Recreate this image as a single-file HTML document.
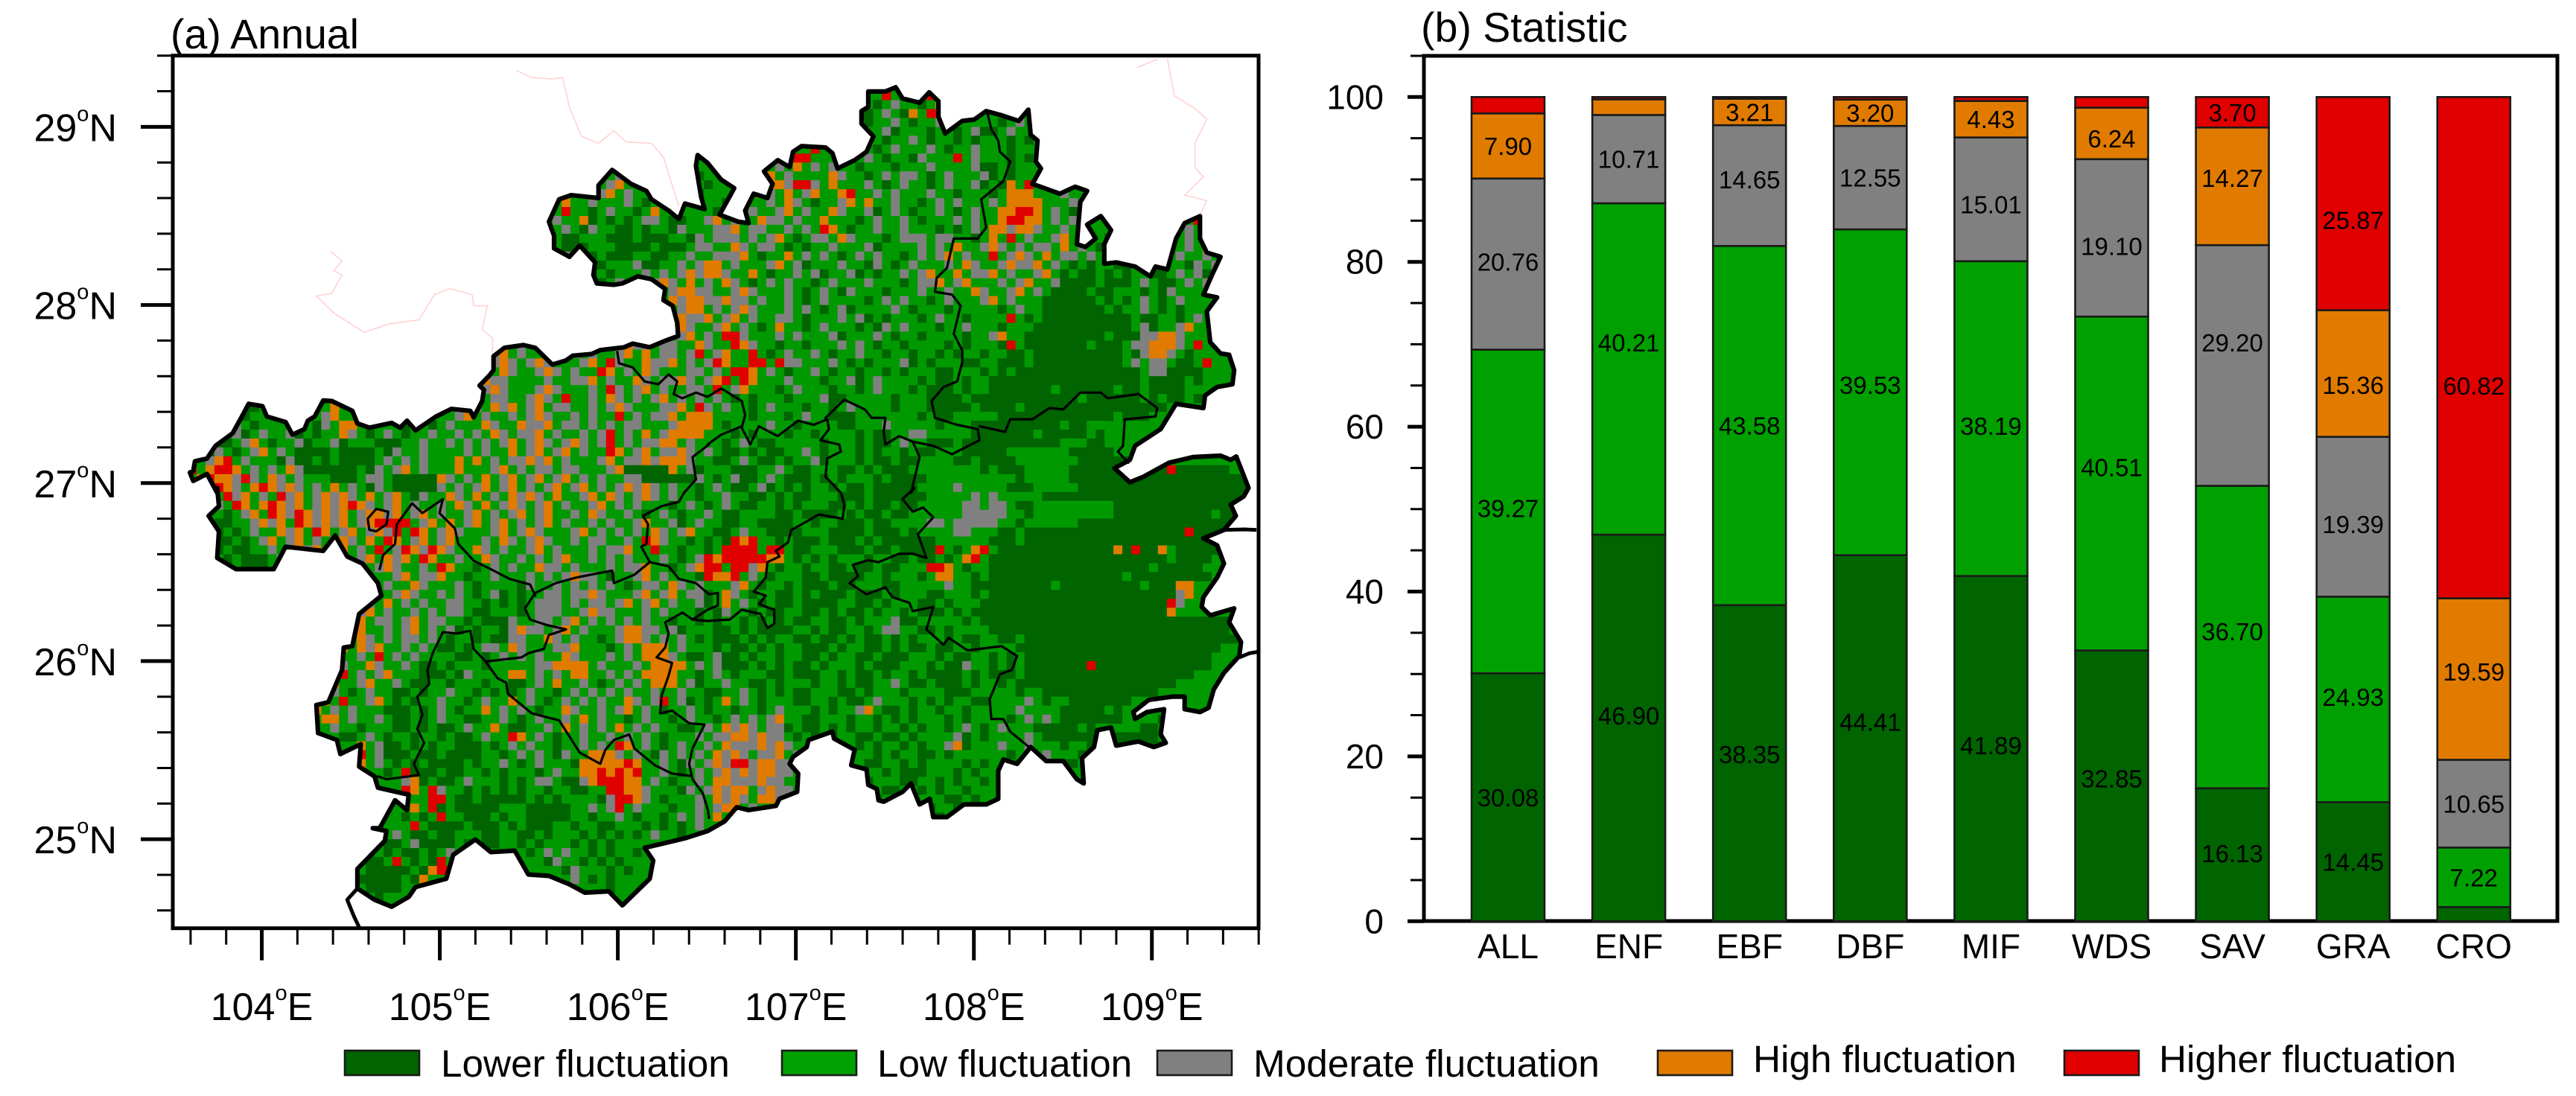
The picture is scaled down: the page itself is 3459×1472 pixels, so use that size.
<!DOCTYPE html>
<html lang="en">
<head>
<meta charset="utf-8">
<title>Fluctuation map and statistics</title>
<style>
html,body{margin:0;padding:0;background:#fff}
svg{display:block}
text{font-family:"Liberation Sans",Arial,sans-serif;fill:#000}
</style>
</head>
<body>
<svg id="fig" xmlns="http://www.w3.org/2000/svg" width="3459" height="1472" viewBox="0 0 3459 1472">
<rect width="3459" height="1472" fill="#fff"/>
<g id="map"></g>
<g id="bars"></g>
<g id="legend"></g>
<text x="229" y="65" font-size="55.5">(a) Annual</text>
<text x="1908" y="56" font-size="55.5">(b) Statistic</text>
</svg>
<script>
// ---------- chart (b) data ----------
const categories=["ALL","ENF","EBF","DBF","MIF","WDS","SAV","GRA","CRO"];
const lowerValues=[30.08,46.90,38.35,44.41,41.89,32.85,16.13,14.45,1.72];
const lowValues=[39.27,40.21,43.58,39.53,38.19,40.51,36.70,24.93,7.22];
const moderateValues=[20.76,10.71,14.65,12.55,15.01,19.10,29.20,19.39,10.65];
const highValues=[7.90,1.90,3.21,3.20,4.43,6.24,14.27,15.36,19.59];
const higherValues=[1.99,0.28,0.21,0.31,0.48,1.30,3.70,25.87,60.82];
const valueTicks=[0,20,40,60,80,100];
const seriesNames=["Lower fluctuation","Low fluctuation","Moderate fluctuation","High fluctuation","Higher fluctuation"];
// small label nudges (value units), per series, relative to segment midpoints
const lowerNudge=[0,1.5,1.1,2,.4,.9,.2,0,0];
const lowNudge=[.4,3.2,0,.9,-.9,2,.7,.3,0];
const moderateNudge=[.3,0,.75,0,-.6,-1,2.8,-.9,0];
const highNudge=[0,0,0,0,0,-.6,1,-1.4,.9];
const higherNudge=[0,0,0,0,0,0,0,-2,-4.6];
// ---------- map (a) data ----------
const lonTicks=[104,105,106,107,108,109];
const latTicks=[25,26,27,28,29];
// Digitised boundaries: [tileColumn,tileRow,[x,y,...]] in 1/520.6 deg lon, 1/635.7 deg lat
const outerBoundary=[
[0,0,[60,1490,65,1455,100,1445,125,1400,175,1355,200,1300,222,1250,262,1258,275,1295,330,1315,350,1360,385,1340,395,1310,415,1295,440,1238,465,1240,525,1275,540,1320,575,1335,640,1318,665,1335,685,1310,710,1345,770,1295,815,1268,870,1275,880,1298,905,1240,910,1200,897,1185,925,1150,938,1130,938,1080,970,1050,1025,1040,1060,1050,1110,1110,1150,1095,1170,1078,1225,1072,1250,1058,1320,1048,1345,1035,1395,1048,1440,1025,1478,1008,1475,960,1462,900,1435,880,1440,840,1400,805,1360,795,1315,820,1290,825,1240,820,1230,790,1235,745,1190,685,1160,725,1115,695,1115,650,1100,600,1130,520,1165,505,1245,515,1245,470,1285,415,1340,465,1385,490,1400,520,1450,560,1480,590,1498,535,1555,555,1545,510,1530,400,1535,362,1564,390]],
[1,0,[40,450,78,480,60,520,35,575,90,600,120,605,110,560,135,500,175,515,190,465,165,420,205,380,240,405,250,350,275,330,345,335,365,355,380,410,430,380,465,350,485,295,450,250,450,205,470,190,470,135,520,135,550,120,570,160,620,175,648,138,675,170,675,225,695,285,745,240,780,235,815,205,860,220,910,240,938,200,945,290,965,310,960,385,975,410,950,465,1030,500,1075,475,1110,490,1090,530,1085,600,1080,680,1105,690,1135,660,1110,610,1150,580,1180,630,1160,680,1160,750,1195,745,1250,760,1295,795,1310,760,1345,770,1370,660,1395,605,1440,580,1440,660,1460,710,1500,725,1475,790,1450,860,1490,870,1460,920,1470,1030,1500,1070,1525,1075,1540,1130,1535,1180,1490,1190,1455,1220,1450,1265,1370,1250,1325,1340,1250,1400,1235,1450,1190,1480,1235,1530,1275,1510,1350,1460,1420,1440,1500,1435,1530,1450,1546,1438,1582,1550]],
[1,1,[1568,30,1530,60,1545,100,1510,150,1450,180,1490,205,1510,270,1490,320,1450,390,1445,425,1470,455,1540,430,1525,480,1560,550,1555,600,1510,660,1480,720,1465,785,1440,800,1395,790,1395,745,1360,745,1290,757,1245,800,1250,825,1285,800,1335,790,1325,880,1340,910,1305,925,1260,905,1195,920,1180,855,1140,865,1130,925,1095,965,1100,1055,1080,1040,1040,975,990,975,945,925,905,985,865,970,850,1010,850,1110,815,1130,750,1130,700,1175,660,1175,650,1110,620,1130,595,1055,570,1085,515,1120,500,1115,495,1075,470,1060,465,1005,420,990,430,935,370,895,365,870,295,900,290,925,250,960,240,985,265,1020,262,1085,210,1110,200,1135,120,1150,85,1140,50,1190,0,1225]],
[0,1,[1500,1250,1380,1285,1405,1330,1395,1395,1315,1490,1275,1440,1205,1445,1160,1415,1100,1385,1040,1380,1000,1295,930,1300,885,1255,820,1310,800,1395,710,1425,690,1460,640,1495,590,1470,540,1430,540,1360,620,1260,625,1225,585,1215,605,1215,650,1115,685,1150,690,1095,600,1070,590,1030,545,995,550,915,490,950,480,900,425,875,420,775,455,765,495,650,500,570,525,565,545,450,610,385,600,340,555,270,510,245,475,170,440,225,330,210,295,290,185,290,130,250,135,155,105,100,135,65,130,0]],
[0,0,[130,1568,100,1500,60,1525,50,1495,60,1490]]
];
const outerStubs=[
[[1,1,[1510,150,1570,148,1605,150]]],
[[1,1,[1555,605,1585,590,1611,585]]],
[[0,1,[540,1430,510,1470,530,1530,545,1568]]]
];
const innerBoundaries=[
[[0,0,[1300,1065,1305,1105,1345,1120,1380,1170,1420,1180,1450,1145,1475,1170,1465,1215,1490,1230,1530,1210,1564,1225]],[1,0,[40,1195,100,1240,110,1290,100,1335,125,1395,150,1330,205,1365,265,1310,310,1325,350,1305,355,1340,330,1380,385,1395,390,1420,350,1445,345,1510,390,1568]],[1,1,[400,60,395,110,325,95,290,120,245,150,235,195,200,225,210,245,175,265,170,320,135,370,170,385,150,415,195,435,195,485,175,500,155,450,100,435,65,470,0,475]],[0,1,[1520,470,1490,445,1455,470,1440,480,1450,520,1440,570,1415,605,1460,625,1450,670,1430,740,1425,805,1460,795,1510,840,1555,845,1520,930,1510,985,1520,1040,1550,1090,1565,1150,1568,1178]]],
[[1,0,[100,1330,40,1360,0,1395]],[0,0,[1568,1395,1520,1440,1530,1520,1495,1568]],[0,1,[1480,50,1430,65,1375,100,1390,130,1385,200,1370,210,1395,265,1350,310,1290,340,1285,295,1180,320,1120,340,1060,375,1030,430,1045,470,1095,490,1150,505,1100,525,1085,575,1040,590,1020,605,915,620]]],
[[0,1,[1395,265,1450,280,1480,325,1530,340,1568,380]],[1,1,[30,375,30,420,0,435]],[0,1,[1520,470]]],
[[0,1,[605,290,615,240,650,200,655,130,700,55,730,90,790,40,780,90,825,145,835,200,880,260,930,290,985,325,1045,345,1060,385]]],
[[0,1,[915,620,950,680,975,695,980,735,1050,805,1130,830,1190,945,1250,985,1265,935,1290,900,1335,880,1350,930,1410,990,1460,1020,1515,1028]]],
[[0,1,[915,620,880,575,870,510,830,520,790,515,760,590,745,650,750,700,715,745,730,810,715,860,735,910,705,985,720,1025,625,1040,600,1030]]],
[[0,1,[575,150,570,110,595,75,630,85,625,130,595,155,575,150]]],
[[1,0,[818,210,830,270,850,310,855,350,885,385,865,455,800,520,815,620,790,660,720,660,700,765,670,800,665,850,715,860,740,900,720,1000,745,1060,745,1100,730,1170,690,1190,655,1240,665,1300,730,1325,790,1340,795,1380,715,1430,660,1400,600,1385,560,1365,520,1395,515,1350,520,1300,480,1300,460,1270,400,1235,345,1300]]],
[[1,0,[600,1385,620,1440,595,1568]],[1,1,[605,0,570,40,600,85,630,70,660,105,615,165,640,250,600,235,560,235,500,265,470,258,425,275,440,315,415,340,465,380,520,355,540,390,590,410,600,440,660,425,640,505,690,560,705,535,760,580,860,565,905,600,890,650,855,665,825,755,830,825,865,825,885,870,940,925]]],
[[1,0,[795,1330,870,1350,885,1305,950,1305,1000,1265,1040,1270,1090,1210,1150,1210,1170,1230,1260,1215,1315,1265,1310,1295,1220,1305,1215,1400,1200,1420,1230,1460]]]
];
const paleBoundaries=[
[[0,0,[1005,60,1050,85,1110,90,1140,85,1160,190,1195,295,1245,320,1290,275,1325,315,1400,320,1435,370,1480,545]]],
[[0,0,[462,705,495,740,470,775,495,790,465,855,420,865,470,925,560,995,630,965,720,950,765,860,810,838,875,860,880,900,920,900,905,985,935,1015,935,1075]]],
[[1,0,[1255,50,1315,20]]],
[[1,0,[1345,20,1365,150,1430,200,1460,235,1425,320,1425,405,1450,440,1395,505,1460,525,1440,575]]]
];
// Class per 0.05 degree cell, [row,startColumn,classes]: d lower, g low, m moderate, h high, r higher
const cellRows=[
[1,77,"grgdggrg"],[2,76,"gdgmggdgh"],[3,75,"ddgmgdhgrrg"],[3,92,"grg"],[4,75,"gdggmgdggmg"],[4,89,"ggdgmg"],
[5,76,"ggmdgggdggdgmddgmg"],[6,76,"hgdggmgdggdgdgggdgd"],[7,69,"grg"],[7,76,"gdgmgggmgdggmgggdgg"],
[8,65,"gmgrrgg"],[8,76,"mgdggdmgggrgmgggdgdg"],[9,64,"ggmghgmgmgg"],[9,75,"dgggdgggmggggmddgdgggg"],
[10,47,"gm"],[10,57,"dg"],[10,64,"hhgmgggghmg"],[10,75,"gdgmgmmgdgmgggmdgdggg"],
[11,46,"gmhg"],[11,57,"gdg"],[11,64,"mhhmrrmghgg"],[11,75,"gmgdgmggdgmggmdgdhgrg"],
[12,45,"gmhgm"],[12,57,"dgg"],[12,64,"hmghgmhgghrg"],[12,76,"gmgmgggmggdgggdghhhgggmggggrg"],
[13,41,"ghggmgggmgdg"],[13,58,"ggd"],[13,64,"gmghmgdggmhg"],[13,76,"hggmggdgmgmgggmghhhhgggmggg"],
[14,41,"grggdgmggdghgg"],[14,58,"gdg"],[14,63,"mggmhgmgghmg"],[14,75,"gmdgmgdggmgdgmgghhrrhgmgdgmgg"],
[15,40,"gmgghdgdgdgmmgddggmh"],[15,60,"gmgghmmgmgghgggdgmggmgdgggmgmg"],[15,90,"ghrrhhgmgmgggd"],[15,112,"gr"],
[16,40,"hgmgdmggddgdggdmgggm"],[16,60,"mhgmmggmgmgrhgdggmggmgggdgdgmg"],[16,90,"hhmhhmggmgmgggdg"],[16,111,"gmg"],
[17,40,"hgddgggdddgdddggdmgm"],[17,60,"mmgmgmhgdgmmghmgggdgmmmgmmggdg"],[17,90,"hgrgmggmhgmggd"],[17,111,"gmgm"],
[18,41,"gdddgggddddgdddgmmg"],[18,60,"ghmgmmgdgdggmgggmdggggmgmghggm"],[18,90,"hmgmgmmghgmgdg"],[18,110,"ggmgh"],
[19,42,"mgddgdddggddggmggm"],[19,60,"mmhgdgghgmgmgdgmgmggdgmgmhgmgg"],[19,90,"rgmhmghgmmgmgg"],[19,110,"gmggmg"],
[20,42,"gddddgggmddggmgmhh"],[20,60,"gmgggmhgmdgggmggdmgdgmgggmghmg"],[20,90,"gmhmmhgmgdgdggddgddgggdmgmmg"],
[21,44,"gdgdgggmgmgmhmhhmg"],[21,60,"mgghgdggmgmdggmdgdggmgmhgghgmm"],[21,90,"hgmggmhgdgddgdgdggddgmgmdgggg"],
[22,46,"dgmgggmhmghgmgmg"],[22,60,"hmgdgmgmggdgmgggmgggdgmmhgmhgg"],[22,90,"gmgmhggmddddgdddgmgddgmgmgmg"],
[23,53,"gmhhmmg"],[23,60,"gmhmgggmgdgmgdmgggdgggmggmgghm"],[23,90,"ggmhgmgddddgddgggdgdmgg"],
[24,54,"hmhhmm"],[24,60,"hmmgmggmgdgmggggdgmgmggdgmgggm"],[24,90,"hgmgggddddddgdgdgmgdgmgg"],
[25,55,"mhhgm"],[25,60,"gmhmgggmgmgdgmdggggmgdgggdgggg"],[25,80,""],[25,90,"gdgmggdddddddgdggmgdgdg"],
[26,55,"hmmhg"],[26,60,"mhgmggmmgdgggmgmdgdgggdgmggdgg"],[26,90,"ggrgdgddddddddddgddggdgmgg"],
[27,54,"mhmggm"],[27,60,"hgmgdghggdgmgggdgdmgmgggdggmgg"],[27,90,"gdgggdddddddddddgmdggmhgg"],
[28,54,"gmhgmg"],[28,60,"rrmgggmgmgggmdgggmgdggdggggdgg"],[28,90,"mhggdddddddddgdddmmhhmggg"],
[29,35,"hgmghg"],[29,41,"gmrhgggmhmmgmmgghmg"],[29,60,"grhmggdggdgggmgmgdggdggggdgdgg"],[29,90,"gdrgdddddddgdddgmmhhhmgrg"],
[30,34,"mhgmgg"],[30,40,"hghmgmggmhghgmmgmrgm"],[30,60,"hggrgdgmggmgdggmggdggdggdgdggd"],[30,90,"ggddgddddddddddgdmhhmgdg"],
[31,33,"gmhmgmh"],[31,40,"mgggmhgrmgghmmhgmgmr"],[31,60,"hggrrgrmmgggmgdgdgggmdgdgggddg"],[31,90,"gdddgddddddddddgmgmmgddgr"],
[32,33,"mghmggm"],[32,40,"hmgmggrhgmghmgggmmgm"],[32,60,"grrhgmgdggmgdggdggdgdgggddgggd"],[32,90,"gdgddddddddddddddgmmdddd"],
[33,33,"hmmgggg"],[33,40,"mggmmhgmgghmgmmhmgmh"],[33,60,"rgrhgggmgggdggmdgmggggdgddgdgg"],[33,90,"dddddddddddddddddgddddgd"],
[34,32,"gmhmgggm"],[34,40,"hmgggmgrmgmhgmggmmgr"],[34,60,"gmhgggdgmgggdggdgmgggdgdddgdgg"],[34,90,"dddddddgddddddgddgddddg"],
[35,32,"hgmmggmh"],[35,40,"mgrggmghmgmgmhgmgmgm"],[35,60,"gdgdgggdgggmddgggggdgggddddgdd"],[35,90,"ddddddddddgddddddgdgddgd"],
[36,6,"dd"],[36,15,"gh"],[36,32,"mghmhgmh"],[36,40,"gmmggmgmhmgggmmhgrmg"],[36,60,"mggdgmgggdggdgmggggdgggdddddgd"],[36,90,"dddgddddddddddddddddgd"],
[37,5,"gdgg"],[37,14,"gmhg"],[37,28,"ggmhgmggmgmh"],[37,40,"mggmgmggrgmgmmhghhhg"],[37,60,"gggdgggdgmggdddgggggggdgddgggg"],[37,90,"gdddddddddddddgdddgggd"],
[38,4,"gmgdg"],[38,13,"gdmghh"],[38,24,"dggdgmggghmgghmm"],[38,40,"hgmmgmgmgmmgggmhhhhg"],[38,60,"dggggmggdggggddgggmgggggdgggdd"],[38,90,"ddddddddgddgg"],
[39,4,"gmdgmggmdgdgghmgdgmgdggmg"],[39,30,"mgmghmgmmh"],[39,40,"gmggmgmrgmghgmhhhhgg"],[39,60,"gdgdgggdggdggggdgddggmmgggggdd"],[39,90,"dddddgdddddgdg"],
[40,2,"gddgmhgdggmdggmdgggdddggmggm"],[40,30,"gmgmgmhgmh"],[40,40,"mgmhmgmrgmgmmhhgmggg"],[40,60,"dgmgddgggggdgggdgddgmggdddgddd"],[40,90,"ddddddddgggdd"],
[41,1,"gdmgdgmhgmgddddgddddgdmggmgg"],[41,30,"gmgmgghgmh"],[41,40,"gmhgmggrhgmhgmmhmgmg"],[41,60,"ddgdgddggmgdgggdgdggdgddgggddd"],[41,90,"ddgggggggddddd"],[41,107,"dddddd"],
[42,0,"hgmhrgmgggdmddgdgddddgmgmgmg"],[42,30,"hghgmgmmhm"],[42,40,"hgmgggmhgmmhmhhhmggd"],[42,60,"dgmgddgdggmdgggdgddgddggggddgd"],[42,90,"dddgggggggddddddddd"],
[43,0,"rghrrhgmgmghmddddddgdmgmhgmg"],[43,30,"hgggmhgmgm"],[43,40,"mgmmgggmhdddddhgmdgg"],[43,60,"gdddggmgddgggddgdgdddggggggggd"],[43,90,"gdddgggggdddddddddddrdddddd"],
[44,0,"ghrhhmrmghmgmgggdddgmmgdddddhm"],[44,30,"gmghgmhgmh"],[44,40,"gmhgmgmggmmddddddmgd"],[44,60,"gmddgmgdddgdgdgggdgddddggggggg"],[44,90,"gggdgggggddddddddddddddddddddd"],
[45,0,"dhrrhmghrhmhmgmghgmgdmgdddddmg"],[45,30,"mgmhgmhgmg"],[45,40,"mhgmhgmgmhmhmgmggdgm"],[45,60,"gddgmdgdgdggdgddgdddddggggmggg"],[45,90,"ggdddgggggdddddddddddddddddddd"],
[46,3,"grmhgmgrmhgmhmhmghgmhgdmgghmg"],[46,32,"hgmghmhmg"],[46,41,"hggmhghmgmhmgmggdgg"],[46,60,"mggddgdgddgggdddgddddddgggggmg"],[46,90,"mgggggddddddddddddddddddddddd"],
[47,2,"gmgrhghrhmhgmhmhrhmgmhgmggmg"],[47,30,"hmghgmhmgm"],[47,40,"hgmggmhgmgmgggdgmgdg"],[47,60,"mgddggdgdgggddgdgddgddgggggmmg"],[47,90,"mmgddgggggggggddddddddddddddd"],
[48,3,"gdgmhgrhmrhmhmhgmhhmhgmhgmg"],[48,30,"gmhgmgmhgm"],[48,40,"hggmghmggmgdgmgdggmg"],[48,60,"ddggggddgddddgdgddgddggggggmmm"],[48,90,"mmggdgggggggggdddddddddddgdddd"],
[49,3,"ddggmhmhgrhmhmhgmhrrrrgmhgh"],[49,30,"gmhgmhgmgm"],[49,40,"hgmggmgmggmhggmdgmgg"],[49,60,"ddggddddggdggdddgddggggmmgmmmm"],[49,90,"mggdggggggdddddddddddddddddddd"],
[50,3,"dgdgmgghmhgrhgmhgmhmrgrhgmh"],[50,30,"mgggmhgmhm"],[50,40,"gggmhgmgmgmghmgmhggd"],[50,60,"dgmggddddgggddddgdddgdggggmmgg"],[50,90,"gddgddddddddddddddddddrdddddd"],
[51,3,"ddgdgmhgmhgmgmhmghgrhgmhgmh"],[51,30,"gggmghmgmh"],[51,40,"mggmgmmggmgrhmggdgdg"],[51,60,"drhrggdgdddgdddgdgddddddgggggg"],[51,90,"dddgdddddddddddddddddddddddg"],
[52,3,"dgddggmgdhmhg"],[52,17,"hgmgrgmrhmrhm"],[52,30,"gghmgmggmh"],[52,40,"gmgggmgmmhggrggdggdg"],[52,60,"rrrrgrrgddgggdddgddgddddrgdghr"],[52,90,"gdddddddddddddhdrddhgddddd"],
[53,4,"dgdddgmgg"],[53,19,"mhghmhgrhgg"],[53,30,"mgghmggmgm"],[53,40,"gmhggmgmgmgggmgdgmrh"],[53,60,"rrrrrhhgdgdgdgggdggddgddgdghrg"],[53,90,"ddddddddddddddddddddgdddd"],
[54,5,"gdddgg"],[54,20,"gmhmggmgrh"],[54,30,"ggdgmgmggh"],[54,40,"mmgmgggmgmmhggdgmhrr"],[54,60,"grrmhgdggdggddgddgddgggrrhgdgg"],[54,90,"ddddddddddddddddddgddddd"],
[55,22,"gmhgmmhg"],[55,30,"gdggmgggmg"],[55,40,"mgmhmmgdggmhgmgggdrh"],[55,60,"hrgmgdgggddgddddggdgggdghhggdg"],[55,90,"dddddddddddddddgddddddddd"],
[56,22,"mgghmggg"],[56,30,"mgdggggdmg"],[56,40,"gmgmgmgmgdgmmghmgmgg"],[56,60,"gmhgdggdgdddgddgggddgggggmggdd"],[56,90,"dddddddgdddddddddgdddhh"],
[57,22,"gmhmggmg"],[57,30,"mgdgmdgdgg"],[57,40,"mmgmmhmgggmhgmhgmmdg"],[57,60,"hmgdggddgdgdddgdddgdgggddgggdg"],[57,90,"dddddddddddddddddddddmhg"],
[58,19,"gmghgmgmggm"],[58,30,"mggdgdgdgm"],[58,40,"mmgmgmmgmhgmhgmggmdg"],[58,60,"hgmgdgddgddddggddgdgggddgdgggd"],[58,90,"ddddddddddddddddddddrmg"],
[59,19,"mhgmggmgmgm"],[59,30,"mgddgggdgm"],[59,40,"mmggmhmmgggmgmgggdgd"],[59,60,"mggdgddggddgdgddgdggdgdddgdgdd"],[59,90,"ddddddddddddddddddddhgg"],
[60,18,"ghgmmgmhgmmg"],[60,30,"gdgdddmggm"],[60,40,"mgmhgmgmgmgmggdggdgd"],[60,60,"ggdgdgdgddggddgdgggmddgggggdgd"],[60,90,"ddddddddddddddddddddddddddd"],
[61,18,"mhggmgmhgmgm"],[61,30,"dgdggdmhmm"],[61,40,"gmhgmgggmhhmmgmdgggd"],[61,60,"dgdgddddggdgddggdgmmggddgdgggg"],[61,90,"ddddddddddddddddddddddddddd"],
[62,17,"gghmgmgmmgmgd"],[62,30,"ggdgddmmgg"],[62,40,"hmgmggdgmhhmgmgmgdgd"],[62,60,"ddgdgdggddgddgdgddgdgdgggdgddg"],[62,90,"gddgdddddddddddddddddddddddd"],
[63,17,"hghmhggmgmgdd"],[63,30,"gdgmmghmgg"],[63,40,"gmmhgggdgmghhhgmgggd"],[63,60,"gddgdgdggdddgdggddgdgddgddggdg"],[63,90,"gggddddddddddddddddddddddd"],
[64,17,"ggmgrgmgmgggg"],[64,30,"ddgdgmgmgm"],[64,40,"gghmgggmgmghhhmgddgm"],[64,60,"ddgdggdggddgdggddgdddgggdgddgg"],[64,90,"dgdgddddddddddddddddddddd"],
[65,16,"gmgghmggmgddgd"],[65,30,"gggdgggggm"],[65,40,"mhhhhgmgggmghhhhgmgm"],[65,60,"dddgdgdgddgdgggdgdddgggdgddmgg"],[65,90,"dgdgdddddddrddddddddddddd"],
[66,16,"hrgmgmhgggdddg"],[66,30,"dmgggghhgm"],[66,40,"gmghhggmgmghhhhggdgm"],[66,60,"gdgggddgdddggdgddgdggdgddddgdg"],[66,90,"dddgddddddddddddddddddd"],
[67,16,"hggmhggmgddggd"],[67,30,"gggdggddgm"],[67,40,"ghggmgdgmgmghhhgmdgg"],[67,60,"mggddgdgggdggdgddggmgddgdddgdg"],[67,90,"gdgdddddddddddddddddd"],
[68,15,"gmgdgmggddgdggm"],[68,30,"ggdgdgdgmg"],[68,40,"gdgmgmgmgmggmggmggdd"],[68,60,"ggmgdgdgddgggddgdgggdggggdddgg"],[68,90,"gggdggddddddddddddd"],
[69,14,"ghgrggmhgdgdggmg"],[69,30,"gdgmgghgmg"],[69,40,"dgmgmgmgghmgmrgmdgdg"],[69,60,"hgmgdgggddggdgddgmgggdgdgdggdd"],[69,90,"ggggmgdggdddddddgg"],
[70,14,"hgmgmgggdddgdgmg"],[70,30,"dgghgmgmgd"],[70,40,"gghmggmgmhgmgdggmgdg"],[70,60,"gdggdgmgggdgdggmhgddgdggdggdgg"],[70,90,"gggmggggdddddgdg"],
[71,14,"ghhgmggmgddgdgmg"],[71,30,"gddggmgdgm"],[71,40,"ggmghgmggdgmggdgmggd"],[71,60,"gmgmgmhggddgggdggdgdgdgggdgdgg"],[71,90,"ggdgmgmgdddddddggg"],[71,109,"dg"],
[72,15,"gmggdgggddgdgdd"],[72,30,"gmgghgddgg"],[72,40,"mghgmgmghgmgmggddgmg"],[72,60,"hmhmgmmdgddgdgdggdggdgdggdgmgd"],[72,90,"gmgggdddddgdg"],[72,107,"ddg"],
[73,17,"ddgmgdggdggdg"],[73,30,"ddgmggrhgm"],[73,40,"gdggmggmgmgmgdgggmgm"],[73,60,"mhhmhmmgdgdgdggddgddgdggggmdgd"],[73,90,"ggggmgdddddddddd"],[73,105,"ddddgg"],
[74,19,"hgmddgdgdgg"],[74,30,"dddgdgmgmg"],[74,40,"gdggmgmgrhgmgdgmggmg"],[74,60,"hmmmhmhmggdggdgdgdggdgdggmhdgg"],[74,90,"gmggmgggdggdddd"],[74,108,"ddd"],
[75,19,"rgmdddgddgd"],[75,30,"dddggdgmgm"],[75,40,"gdmgghhhmgmgdmgmgmgh"],[75,60,"mhmgmmhgmgdgddgggdgdggddgdgggg"],[75,90,"ggdgggmgggddg"],
[76,19,"hgmgdgdgddd"],[76,30,"dgdggmgdgm"],[76,40,"gggdhhhhhrhggmgdmgmh"],[76,60,"mrrmhhmmgggdgdggddggdgdggggdgd"],[76,90,"gggdggdgddg"],
[77,20,"ggdgrdddgd"],[77,30,"dggdgdgggd"],[77,40,"gmgghhrhrhrggmgdgmgm"],[77,60,"hmhmhhmmgdgdggdgggdgdddgggdgdg"],[77,90,"gdggdggdgg"],
[78,22,"ggmhdgdd"],[78,30,"gmgggdgdgm"],[78,40,"mgddmhrrrhhgmgdggmgh"],[78,60,"hmmmhmmggdgdggdddgggddggdgdggd"],[78,90,"ggdggd"],[78,104,"gg"],
[79,24,"rhgrmg"],[79,30,"gdgdgdgdgg"],[79,40,"dggddggrrhhmgggdmgmh"],[79,60,"mhhgmhmmgggdgdggdgddggdgdggdgg"],[79,90,"gdgg"],
[80,24,"gggrrg"],[80,30,"ddgdddddgd"],[80,40,"gdggggdmrrhmgdgggmgh"],[80,60,"mhmghhmgggdgdgdgddgdgdgggddgdg"],
[81,23,"gghgrdg"],[81,30,"dddddgggdd"],[81,40,"dddggmgmrgmgggdggmgm"],[81,60,"hhgmgggddgddgddgdggdggdd"],[81,83,"dggd"],
[82,22,"ggdgdgrg"],[82,30,"gdddgdggdd"],[82,40,"dddggdggmgdggdgmgmgh"],[82,60,"gmgdgdgdggddgddggdgdgdg"],[82,83,"dd"],
[83,21,"dgggrgddd"],[83,30,"dgdddgdgdd"],[83,40,"dggdggddgggdgdgdgmgg"],
[84,21,"ggmgddgdd"],[84,30,"gggddggddg"],[84,40,"dgggdgdgdgdgmggdggdg"],
[85,20,"dgddgmddddgdgdd"],[85,35,"ggdgdgggdgdgdgggg"],
[86,19,"gdgdgddgdgmg"],[86,37,"gdgmgmggdgdggdg"],
[87,19,"gddgrgdgdrgr"],[87,37,"gggdmggdgdgdgg"],
[88,19,"gdddddgdhrr"],[88,41,"gdmgggdgdg"],
[89,19,"dddddgdhgg"],[89,42,"gmgdgdg"],
[90,19,"gddddgg"],[90,45,"ggdg"],
[91,21,"dgg"],[91,46,"gdg"]
];
// ---------- axis functions ----------
const mapX=lon=>232+(lon-103.5)*239.04;
const mapY=lat=>1246.7-(lat-24.5)*239.18;
const tileLon=(col,u)=>103.5+(u+col*1564)/520.6;
const tileLat=(row,v)=>29.411-(v+row*1550)/635.7;
const barX=i=>2025+i*162.1;
const barY=v=>1237.3-v*11.07;
const gridLon=c=>103.584+c*0.05;
const gridLat=r=>29.25-r*0.05;
// ---------- drawing helpers ----------
const NS="http://www.w3.org/2000/svg";
function make(parent,tag,attrs,text){
  const el=document.createElementNS(NS,tag);
  for(const k in attrs)el.setAttribute(k,attrs[k]);
  if(text!==undefined)el.textContent=text;
  parent.appendChild(el);
  return el;
}
function pathFrom(parts){
  let d="",first=true;
  parts.forEach(p=>{
    for(let i=0;i<p[2].length;i+=2){
      const px=mapX(tileLon(p[0],p[2][i])),py=mapY(tileLat(p[1],p[2][i+1]));
      d+=(first?"M":"L")+px.toFixed(1)+" "+py.toFixed(1);
      first=false;
    }
  });
  return d;
}
const mapG=document.getElementById("map");
const barG=document.getElementById("bars");
const legendG=document.getElementById("legend");
const mapColors={d:"#006400",g:"#009a00",m:"#808080",h:"#e07b00",r:"#e00000"};
const barColors=["#006400","#00a000","#808080","#e07b00",mapColors.r];
// ---------- map ----------
const outerD=pathFrom(outerBoundary)+"Z";
const defs=make(mapG,"defs",{});
const clip=make(defs,"clipPath",{id:"regionClip"});
make(clip,"path",{d:outerD});
const baseFill=make(mapG,"path",{d:outerD,fill:mapColors.g});


paleBoundaries.forEach(parts=>{
  const pale=make(mapG,"path",{d:pathFrom(parts),fill:"none",stroke:"#ffd2d2","stroke-width":"1.6"});
  
  
});
const cellsG=make(mapG,"g",{"clip-path":"url(#regionClip)"});


const stepX=mapX(gridLon(1))-mapX(gridLon(0)),stepY=mapY(gridLat(1))-mapY(gridLat(0));
cellRows.forEach(seg=>{
  for(let i=0;i<seg[2].length;i++){
    const cell=make(cellsG,"rect",{x:mapX(gridLon(seg[1]+i)).toFixed(1),y:mapY(gridLat(seg[0])).toFixed(1),width:(stepX+.3).toFixed(1),height:(stepY+.3).toFixed(1),fill:mapColors[seg[2][i]]});
    
    
  }
});
innerBoundaries.forEach(parts=>{
  const line=make(mapG,"path",{d:pathFrom(parts),fill:"none",stroke:"#000","stroke-width":"3.2","stroke-linejoin":"round","stroke-linecap":"round"});
  
  
});
const outerLine=make(mapG,"path",{d:outerD,fill:"none",stroke:"#000","stroke-width":"6.2","stroke-linejoin":"round"});


outerStubs.forEach(parts=>{
  const stub=make(mapG,"path",{d:pathFrom(parts),fill:"none",stroke:"#000","stroke-width":"5","stroke-linejoin":"round"});
  
  
});
const mapFrame=make(mapG,"rect",{x:232,y:74.7,width:1458,height:1172,fill:"none",stroke:"#000","stroke-width":"5"});


for(let t=0;t<=30;t++){
  const lon=103.6+t*0.2,major=t%5===2;
  const tick=make(mapG,"line",{x1:mapX(lon),x2:mapX(lon),y1:1246.7,y2:1246.7+(major?43:22),stroke:"#000","stroke-width":major?5:3});
  
  
}
for(let t=0;t<=24;t++){
  const lat=24.6+t*0.2,major=t%5===2;
  const tick=make(mapG,"line",{x1:232-(major?43:21),x2:232,y1:mapY(lat),y2:mapY(lat),stroke:"#000","stroke-width":major?5:3});
  
  
}
function degreeLabel(name,x,y,anchor,value,suffix){
  const t=make(mapG,"text",{x:x,y:y,"text-anchor":anchor,"font-size":52});
  
  
  make(t,"tspan",{},String(value));
  make(t,"tspan",{"font-size":29,dy:-27},"o");
  make(t,"tspan",{dy:27},suffix);
}
lonTicks.forEach(v=>degreeLabel("lon-label",mapX(v),1370,"middle",v,"E"));
latTicks.forEach(v=>degreeLabel("lat-label",157,mapY(v)+19,"end",v,"N"));
// ---------- bars ----------
const barFrame=make(barG,"rect",{x:1912,y:75,width:1522,height:1162,fill:"none",stroke:"#000","stroke-width":"5"});


for(let v=0;v<=105;v+=5){
  const major=v%20===0;
  const tick=make(barG,"line",{x1:1912-(major?22:18),x2:1912,y1:barY(v),y2:barY(v),stroke:"#000","stroke-width":major?5:3});
  
  
}
valueTicks.forEach(v=>{
  const t=make(barG,"text",{x:1858,y:barY(v)+16,"text-anchor":"end","font-size":46},String(v));
  
  
});
const allSeries=[lowerValues,lowValues,moderateValues,highValues,higherValues];
const allNudges=[lowerNudge,lowNudge,moderateNudge,highNudge,higherNudge];
const seriesKeys=["lower","low","moderate","high","higher"];
categories.forEach((cat,i)=>{
  let base=0;
  allSeries.forEach((vals,s)=>{
    const top=base+vals[i];
    const seg=make(barG,"rect",{x:barX(i)-49,y:barY(top),width:98,height:barY(base)-barY(top),fill:barColors[s],stroke:"#1a1a1a","stroke-width":"2.6"});
    
    
    base=top;
  });
});
categories.forEach((cat,i)=>{
  let base=0;
  allSeries.forEach((vals,s)=>{
    const v=vals[i];
    if(v>3){
      const lab=make(barG,"text",{x:barX(i),y:barY(base+v/2+allNudges[s][i])+12,"text-anchor":"middle","font-size":33},v.toFixed(2));
      
      
    }
    base+=v;
  });
  const lab=make(barG,"text",{x:barX(i),y:1287,"text-anchor":"middle","font-size":46},cat);
  
  
});
// ---------- legend ----------
const legendSwatchX=[463,1050,1554,2226,2772];
const legendTextX=[592,1178,1683,2354,2899];
const legendBaseline=[1446,1446,1446,1440,1440];
seriesNames.forEach((name,i)=>{
  const sw=make(legendG,"rect",{x:legendSwatchX[i],y:1411,width:100,height:33,fill:barColors[i],stroke:"#1a1a1a","stroke-width":"2.6"});
  
  
  const t=make(legendG,"text",{x:legendTextX[i],y:legendBaseline[i],"font-size":51.3},name);
  
  
});
</script>
</body>
</html>
